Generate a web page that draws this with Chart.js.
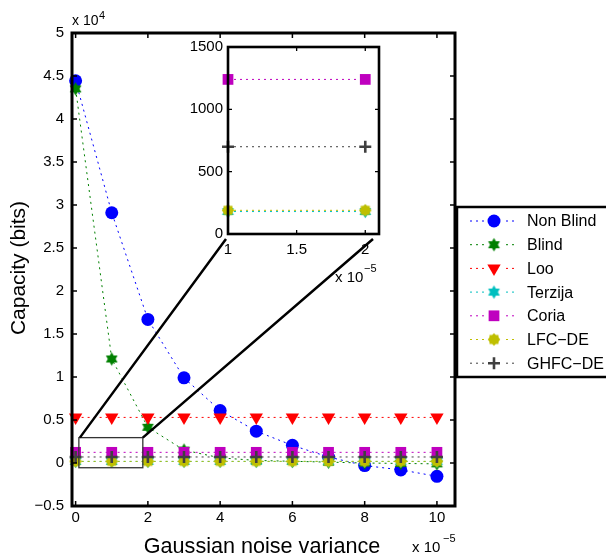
<!DOCTYPE html>
<html>
<head>
<meta charset="utf-8">
<script src="https://cdn.jsdelivr.net/npm/chart.js@4.4.1/dist/chart.umd.min.js"></script>
<style>
body { margin: 0; background: #fff; }
#wrap { position: relative; width: 606px; height: 560px; }
#wrap canvas { position: absolute; left: 0; top: 0; }
</style>
</head>
<body>
<div id="wrap">
  <canvas id="main" width="606" height="560"></canvas>
  <canvas id="inset" width="606" height="560"></canvas>
</div>
<script>
// noise variance, in units of 1e-5
var noiseVariance = [0, 1, 2, 3, 4, 5, 6, 7, 8, 9, 10];

// capacity in bits
var nonBlind = [44450, 29100, 16700, 9900, 6100, 3700, 2050, 700, -300, -800, -1550];
var blind    = [43500, 12100, 4150, 1500, 600, 300, 200, 100, 0, -50, -100];
var loo      = [5300, 5300, 5300, 5300, 5300, 5300, 5300, 5300, 5300, 5300, 5300];
var terzija  = [180, 180, 180, 180, 180, 180, 180, 180, 180, 180, 180];
var coria    = [1240, 1240, 1240, 1240, 1240, 1240, 1240, 1240, 1240, 1240, 1240];
var lfcDe    = [190, 190, 190, 190, 190, 190, 190, 190, 190, 190, 190];
var ghfcDe   = [700, 700, 700, 700, 700, 700, 700, 700, 700, 700, 700];

var seriesNames = ['Non Blind', 'Blind', 'Loo', 'Terzija', 'Coria', 'LFC\u2212DE', 'GHFC\u2212DE'];
var seriesValues = [nonBlind, blind, loo, terzija, coria, lfcDe, ghfcDe];

var xTicks = [0, 2, 4, 6, 8, 10];
var yTicks = [-5000, 0, 5000, 10000, 15000, 20000, 25000, 30000, 35000, 40000, 45000, 50000];

// zoomed inset: points 1 and 2 (x 1e-5)
var insetIdx = [1, 2];
var insetXTicks = [1, 1.5, 2];
var insetYTicks = [0, 500, 1000, 1500];

var FONT = 'Helvetica, Arial, "Liberation Sans", sans-serif';
Chart.defaults.font.family = FONT;
Chart.defaults.font.size = 15;
Chart.defaults.color = '#000';

function starCanvas(color, points, R, r) {
  var s = Math.ceil(R * 2 + 3);
  var c = document.createElement('canvas');
  c.width = s; c.height = s;
  var g = c.getContext('2d');
  g.fillStyle = color;
  g.beginPath();
  for (var k = 0; k < points * 2; k++) {
    var a = -Math.PI / 2 + k * Math.PI / points;
    var rr = k % 2 ? r : R;
    var px = s / 2 + rr * Math.cos(a), py = s / 2 + rr * Math.sin(a);
    if (k === 0) g.moveTo(px, py); else g.lineTo(px, py);
  }
  g.closePath();
  g.fill();
  return c;
}

var styles = [
  { color: '#0000ff', pointStyle: 'circle', radius: 6.5, rotation: 0, bw: 0 },
  { color: '#008000', pointStyle: starCanvas('#008000', 6, 6.8, 3.9), radius: 7, rotation: 0, bw: 0 },
  { color: '#ff0000', pointStyle: 'triangle', radius: 7.7, rotation: 180, bw: 0 },
  { color: '#00bfbf', pointStyle: starCanvas('#00bfbf', 6, 6.8, 3.9), radius: 7, rotation: 0, bw: 0 },
  { color: '#bf00bf', pointStyle: 'rect', radius: 7.6, rotation: 0, bw: 0 },
  { color: '#bfbf00', pointStyle: starCanvas('#bfbf00', 8, 6.3, 5), radius: 6, rotation: 0, bw: 0 },
  { color: '#404040', pointStyle: 'cross', radius: 6, rotation: 0, bw: 2.6 }
];

function buildDatasets(indices, maxY) {
  var out = [];
  seriesValues.forEach(function (vals, s) {
    var pts = indices.map(function (i) { return { x: noiseVariance[i], y: vals[i] }; });
    if (maxY !== undefined && pts.some(function (p) { return p.y > maxY; })) return;
    var st = styles[s];
    out.push({
      label: seriesNames[s],
      data: pts,
      showLine: true,
      clip: false,
      borderColor: st.color,
      backgroundColor: st.color,
      borderWidth: 1,
      borderDash: [2, 4],
      pointStyle: st.pointStyle,
      pointRadius: st.radius,
      pointRotation: st.rotation,
      pointBorderWidth: st.bw,
      pointBorderColor: st.color,
      pointBackgroundColor: st.color,
      order: seriesValues.length - s
    });
  });
  return out;
}

// MATLAB-like box with inward ticks
var boxPlugin = {
  id: 'mbox',
  beforeDraw: function (chart) {
    var a = chart.chartArea, ctx = chart.ctx;
    ctx.save();
    ctx.fillStyle = '#fff';
    ctx.fillRect(a.left, a.top, a.right - a.left, a.bottom - a.top);
    ctx.restore();
  },
  afterDraw: function (chart, args, o) {
    var a = chart.chartArea, ctx = chart.ctx, xs = chart.scales.x, ys = chart.scales.y;
    ctx.save();
    ctx.strokeStyle = '#000';
    ctx.lineWidth = o.tickWidth;
    ctx.beginPath();
    xs.ticks.forEach(function (t) {
      var p = xs.getPixelForValue(t.value);
      ctx.moveTo(p, a.bottom); ctx.lineTo(p, a.bottom - o.tickLen);
      ctx.moveTo(p, a.top); ctx.lineTo(p, a.top + o.tickLen);
    });
    ys.ticks.forEach(function (t) {
      var p = ys.getPixelForValue(t.value);
      ctx.moveTo(a.left, p); ctx.lineTo(a.left + o.tickLen, p);
      ctx.moveTo(a.right, p); ctx.lineTo(a.right - o.tickLen, p);
    });
    ctx.stroke();
    ctx.lineWidth = o.lineWidth;
    ctx.strokeRect(a.left, a.top, a.right - a.left, a.bottom - a.top);
    // free texts
    (o.texts || []).forEach(function (t) {
      ctx.save();
      ctx.font = t.size + 'px ' + FONT;
      ctx.fillStyle = '#000';
      ctx.textAlign = t.align || 'left';
      ctx.textBaseline = t.baseline || 'alphabetic';
      ctx.translate(t.x, t.y);
      if (t.rot) ctx.rotate(t.rot);
      ctx.fillText(t.text, 0, 0);
      ctx.restore();
    });
    ctx.restore();
  }
};

// zoom rectangle, connectors and legend on the main axes
var mainExtras = {
  id: 'mainExtras',
  afterDraw: function (chart) {
    var ctx = chart.ctx, xs = chart.scales.x, ys = chart.scales.y;
    var x0 = xs.getPixelForValue(0.09), x1 = xs.getPixelForValue(1.86);
    var y0 = ys.getPixelForValue(2950), y1 = ys.getPixelForValue(-550);
    ctx.save();
    ctx.strokeStyle = '#333';
    ctx.lineWidth = 1.3;
    ctx.strokeRect(x0, y0, x1 - x0, y1 - y0);
    ctx.strokeStyle = '#000';
    ctx.lineWidth = 2.5;
    ctx.beginPath();
    ctx.moveTo(x0 + 1, y0); ctx.lineTo(226, 239);
    ctx.moveTo(x1, y0); ctx.lineTo(373, 239);
    ctx.stroke();

    // legend
    var lx = 457, ly = 207, lw = 170, lh = 170;
    ctx.fillStyle = '#fff';
    ctx.fillRect(lx, ly, lw, lh);
    ctx.lineWidth = 2.5;
    ctx.strokeStyle = '#000';
    ctx.strokeRect(lx, ly, lw, lh);
    chart.data.datasets.forEach(function (ds, i) {
      var y = 221 + i * 23.7;
      ctx.save();
      ctx.strokeStyle = ds.borderColor;
      ctx.lineWidth = 1;
      ctx.setLineDash([2, 4]);
      ctx.beginPath();
      ctx.moveTo(470, y); ctx.lineTo(518, y);
      ctx.stroke();
      ctx.restore();
      ctx.save();
      ctx.fillStyle = '#fff';
      ctx.fillRect(486, y - 8, 16, 16);
      ctx.fillStyle = ds.pointBackgroundColor;
      ctx.strokeStyle = ds.pointBorderColor;
      ctx.lineWidth = ds.pointBorderWidth;
      Chart.helpers.drawPoint(ctx, {
        pointStyle: ds.pointStyle, radius: ds.pointRadius,
        rotation: ds.pointRotation, borderWidth: ds.pointBorderWidth
      }, 494, y);
      ctx.restore();
      ctx.fillStyle = '#000';
      ctx.font = '16px ' + FONT;
      ctx.textBaseline = 'middle';
      ctx.textAlign = 'left';
      ctx.fillText(ds.label, 527, y + 1);
    });
    ctx.restore();
  }
};

function fmt(v, scale) {
  return String(Math.round(v / scale * 10) / 10).replace('-', '\u2212');
}

new Chart(document.getElementById('main'), {
  type: 'scatter',
  data: { datasets: buildDatasets(noiseVariance.map(function (v, i) { return i; })) },
  options: {
    animation: false,
    responsive: false,
    devicePixelRatio: 1,
    layout: { padding: { left: 12, right: 151, top: 33, bottom: 14 } },
    plugins: {
      legend: { display: false },
      tooltip: { enabled: false },
      mbox: {
        tickLen: 5, tickWidth: 1.5, lineWidth: 3,
        texts: [
          { text: 'Capacity (bits)', x: 19, y: 268, size: 21, rot: -Math.PI / 2, align: 'center', baseline: 'middle' },
          { text: 'Gaussian noise variance', x: 262, y: 547, size: 21.6, align: 'center', baseline: 'middle' },
          { text: 'x 10', x: 72, y: 25, size: 14 },
          { text: '4', x: 99, y: 19, size: 11 },
          { text: 'x 10', x: 412, y: 552, size: 15 },
          { text: '\u22125', x: 443, y: 542, size: 11 }
        ]
      }
    },
    scales: {
      x: {
        type: 'linear', min: -0.1, max: 10.5,
        grid: { display: false, drawTicks: false },
        border: { display: false },
        afterFit: function (s) { s.height = 40; },
        afterBuildTicks: function (s) { s.ticks = xTicks.map(function (v) { return { value: v }; }); },
        ticks: { padding: 3, maxRotation: 0, callback: function (v) { return String(v); } }
      },
      y: {
        type: 'linear', min: -5000, max: 50000,
        grid: { display: false, drawTicks: false },
        border: { display: false },
        afterFit: function (s) { s.width = 60; },
        afterBuildTicks: function (s) { s.ticks = yTicks.map(function (v) { return { value: v }; }); },
        ticks: { padding: 8, callback: function (v) { return fmt(v, 10000); } }
      }
    }
  },
  plugins: [boxPlugin, mainExtras]
});

new Chart(document.getElementById('inset'), {
  type: 'scatter',
  data: { datasets: buildDatasets(insetIdx, insetYTicks[insetYTicks.length - 1]) },
  options: {
    animation: false,
    responsive: false,
    devicePixelRatio: 1,
    events: [],
    layout: { padding: { left: 178, right: 227, top: 47, bottom: 286 } },
    plugins: {
      legend: { display: false },
      tooltip: { enabled: false },
      mbox: {
        tickLen: 4, tickWidth: 1.3, lineWidth: 2.6,
        texts: [
          { text: 'x 10', x: 335, y: 282, size: 15 },
          { text: '\u22125', x: 364, y: 272, size: 11 }
        ]
      }
    },
    scales: {
      x: {
        type: 'linear', min: 1, max: 2.1,
        grid: { display: false, drawTicks: false },
        border: { display: false },
        afterFit: function (s) { s.height = 40; },
        afterBuildTicks: function (s) { s.ticks = insetXTicks.map(function (v) { return { value: v }; }); },
        ticks: { padding: 7, maxRotation: 0, callback: function (v) { return String(v); } }
      },
      y: {
        type: 'linear', min: 0, max: 1500,
        grid: { display: false, drawTicks: false },
        border: { display: false },
        afterFit: function (s) { s.width = 50; },
        afterBuildTicks: function (s) { s.ticks = insetYTicks.map(function (v) { return { value: v }; }); },
        ticks: { padding: 5, callback: function (v) { return String(v); } }
      }
    }
  },
  plugins: [boxPlugin]
});
</script>
</body>
</html>
